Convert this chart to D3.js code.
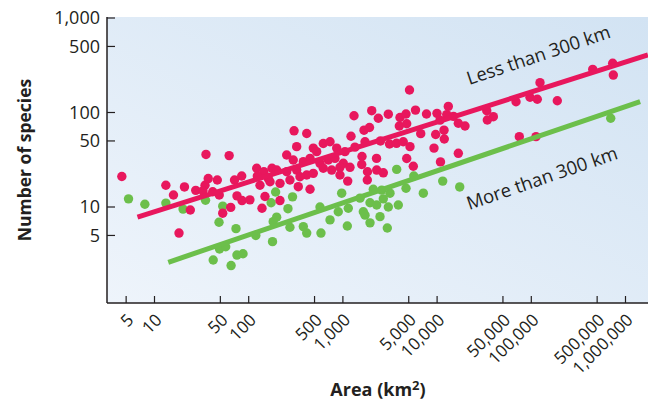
<!DOCTYPE html>
<html>
<head>
<meta charset="utf-8">
<script src="https://cdn.jsdelivr.net/npm/d3@7"></script>
<style>
  html, body { margin: 0; padding: 0; background: #fff; }
  svg { display: block; }
  text { font-family: "Open Sans", "Noto Sans", sans-serif; fill: #231f20; }
</style>
</head>
<body>
<div id="chart"></div>
<script>
// islands within 300 km of the mainland
const lessArea = [4.5, 13.2, 15.9, 20.8, 18.2, 24, 27.4, 35.2, 62, 34.4, 37.2, 46.4, 41.5, 48.7, 32.7,
  53, 64.4, 70.7, 84.3, 75.1, 84.9, 103, 121.6, 145, 176.7, 123.4, 161.5, 131.8, 168.4, 148.9, 138.4,
  214.8, 303, 413, 485, 619, 730, 527, 323, 253, 859, 1052, 297, 380, 448, 571, 700, 824, 1010, 198,
  253, 323, 413, 485, 619, 760, 931, 1189, 215, 274, 336, 448, 1125, 350, 931, 1219, 1312, 2023, 2377,
  3034, 4036, 4677, 3970, 4756, 5897, 7716, 9970, 13150, 12650, 14930, 16800, 19780, 5093, 1675, 1916,
  6700, 9660, 11840, 11920, 1717, 1343, 2506, 3124, 3707, 4375, 5155, 9270, 16800, 1595, 2275, 1585,
  4756, 5590, 10860, 1824, 2285, 2685, 1816, 10740, 33650, 39530, 34120, 68850, 96850, 115800, 123700,
  188800, 448700, 731000, 742500, 74600, 112200];
const lessSpecies = [21, 17, 13.4, 16.3, 5.3, 9.3, 15, 36, 35, 17, 20, 19.3, 14.5, 13.4, 14.8,
  8.6, 9.9, 19.3, 21.3, 13.1, 11.7, 11.9, 25.7, 23.6, 25.7, 21.3, 20, 17, 18.5, 12.9, 9.7,
  11.7, 64, 60, 42, 47, 49, 38.5, 43.5, 35.5, 42, 38.5, 31.4, 30.2, 32.7, 29, 31.4, 32.7, 29, 24.6,
  23.6, 24.6, 21.8, 22.7, 25.7, 24.6, 21.8, 26.3, 17.8, 19.3, 16.4, 15.4, 18.8, 20.9, 26.3, 56, 92.5, 104.5, 87,
  96, 88.5, 96.4, 72, 76, 106, 96.4, 98, 116, 95, 91, 77, 72, 173, 65, 69.4,
  59.7, 58.5, 65, 52.4, 49, 43, 50, 46.4, 47.2, 49, 43.5, 42, 37, 34.2, 32.7, 28.2,
  32.6, 27, 30, 23.6, 24.6, 23, 19.3, 83, 104.5, 90.3, 83.3, 130, 145, 138, 207,
  133, 286, 332, 249, 55.5, 55.5];

// islands more than 300 km from the mainland
const moreArea = [5.3, 7.9, 13.2, 20.1, 34.8, 53, 48.4, 73.3, 119, 179, 182, 198, 173, 193, 49, 57,
  42, 65, 75, 87, 261, 274, 380, 413, 585, 730, 1114, 571, 893, 1141, 292, 971, 1520, 1940, 2285,
  2685, 3034, 3873, 1647, 1717, 2477, 1940, 2960, 2102, 2582, 3162, 4677, 7140, 3724, 5660, 11470,
  17380, 696600];
const moreSpecies = [12.2, 10.7, 11, 9.5, 11.8, 10.2, 6.9, 5.9, 5, 4.3, 7, 7.8, 11.1, 14.4, 3.6, 3.8,
  2.75, 2.4, 3.1, 3.2, 9.6, 6.1, 6.2, 5.3, 5.3, 7.3, 6.3, 10, 8.9, 9.7, 12.8, 14, 12.4, 11.1, 10.5,
  12.2, 10, 10.5, 8.9, 8.2, 7.9, 6.8, 6, 15.4, 15.1, 14, 15.8, 14, 25, 21.3, 18.8,
  16.3, 87];

// fitted lines (ends)
const lessFitArea = [6.6, 1730000];
const lessFitSpecies = [7.8, 406];
const moreFitArea = [14, 1430000];
const moreFitSpecies = [2.6, 130];

const xTicks = [5, 10, 50, 100, 500, 1000, 5000, 10000, 50000, 100000, 500000, 1000000];
const yTicks = [5, 10, 50, 100, 500, 1000];

const width = 648;
const height = 404;
const plot = { left: 107, top: 17, right: 648, bottom: 303 };
const red = "#e8175d";
const green = "#6cbf4b";
const fmt = d3.format(",");

const x = d3.scaleLog().domain([10, 1e6]).range([154.5, 625.5]);
const y = d3.scaleLog().domain([10, 1000]).range([207, 18]);

const svg = d3.select("#chart").append("svg")
  .attr("width", width)
  .attr("height", height);

// background gradient
const grad = svg.append("defs").append("linearGradient")
  .attr("id", "bg")
  .attr("x1", 0).attr("y1", 1).attr("x2", 1).attr("y2", 0);
grad.append("stop").attr("offset", "0%").attr("stop-color", "#eef4fb");
grad.append("stop").attr("offset", "100%").attr("stop-color", "#d2e3f3");

svg.append("clipPath").attr("id", "clip")
  .append("rect")
  .attr("x", plot.left).attr("y", plot.top)
  .attr("width", plot.right - plot.left).attr("height", plot.bottom - plot.top);

svg.append("rect")
  .attr("x", plot.left).attr("y", plot.top)
  .attr("width", plot.right - plot.left).attr("height", plot.bottom - plot.top)
  .attr("fill", "url(#bg)");

const marks = svg.append("g").attr("clip-path", "url(#clip)");

const more = moreArea.map((a, i) => ({ area: a, species: moreSpecies[i] }));
const less = lessArea.map((a, i) => ({ area: a, species: lessSpecies[i] }));

marks.selectAll("circle.more")
  .data(more)
  .join("circle")
  .attr("class", "more")
  .attr("cx", d => x(d.area))
  .attr("cy", d => y(d.species))
  .attr("r", 4.7)
  .attr("fill", green);

marks.selectAll("circle.less")
  .data(less)
  .join("circle")
  .attr("class", "less")
  .attr("cx", d => x(d.area))
  .attr("cy", d => y(d.species))
  .attr("r", 4.7)
  .attr("fill", red);

const line = d3.line().x(d => x(d[0])).y(d => y(d[1]));

marks.append("path")
  .attr("d", line(moreFitArea.map((a, i) => [a, moreFitSpecies[i]])))
  .attr("stroke", green)
  .attr("stroke-width", 5)
  .attr("fill", "none");

marks.append("path")
  .attr("d", line(lessFitArea.map((a, i) => [a, lessFitSpecies[i]])))
  .attr("stroke", red)
  .attr("stroke-width", 5)
  .attr("fill", "none");

// line labels
svg.append("text")
  .attr("transform", `translate(${x(22000)},${y(195)}) rotate(-18.5)`)
  .style("font-size", "18.5px")
  .text("Less than 300 km");

svg.append("text")
  .attr("transform", `translate(${x(22000)},${y(9.3)}) rotate(-19)`)
  .style("font-size", "18.5px")
  .text("More than 300 km");

// axes
const xAxis = svg.append("g");
xAxis.append("line")
  .attr("x1", plot.left).attr("x2", plot.right)
  .attr("y1", plot.bottom).attr("y2", plot.bottom)
  .attr("stroke", "#231f20").attr("stroke-width", 1.5);
xAxis.selectAll("line.tick")
  .data(xTicks)
  .join("line")
  .attr("class", "tick")
  .attr("x1", d => x(d)).attr("x2", d => x(d))
  .attr("y1", plot.bottom).attr("y2", plot.bottom - 7)
  .attr("stroke", "#231f20").attr("stroke-width", 1.2);
xAxis.selectAll("text")
  .data(xTicks)
  .join("text")
  .attr("transform", d => `translate(${x(d) + 8.5},${plot.bottom + 18}) rotate(-45)`)
  .style("text-anchor", "end")
  .style("font-size", "17px")
  .text(d => fmt(d));

const yAxis = svg.append("g");
yAxis.append("line")
  .attr("x1", plot.left).attr("x2", plot.left)
  .attr("y1", plot.top).attr("y2", plot.bottom)
  .attr("stroke", "#231f20").attr("stroke-width", 1.5);
yAxis.selectAll("line.tick")
  .data(yTicks)
  .join("line")
  .attr("class", "tick")
  .attr("x1", plot.left).attr("x2", plot.left + 8)
  .attr("y1", d => y(d)).attr("y2", d => y(d))
  .attr("stroke", "#231f20").attr("stroke-width", 1.2);
yAxis.selectAll("text")
  .data(yTicks)
  .join("text")
  .attr("x", 100)
  .attr("y", d => y(d))
  .attr("dy", "0.36em")
  .style("text-anchor", "end")
  .style("font-size", "18px")
  .text(d => fmt(d));

// axis titles
svg.append("text")
  .attr("transform", "translate(31,160) rotate(-90)")
  .style("text-anchor", "middle")
  .style("font-size", "17.5px")
  .style("font-weight", "bold")
  .text("Number of species");

const xTitle = svg.append("text")
  .attr("x", 378)
  .attr("y", 396)
  .style("text-anchor", "middle")
  .style("font-size", "18px")
  .style("font-weight", "bold")
  .text("Area (km");
xTitle.append("tspan").attr("dy", -6).style("font-size", "13px").text("2");
xTitle.append("tspan").attr("dy", 6).text(")");
</script>
</body>
</html>
